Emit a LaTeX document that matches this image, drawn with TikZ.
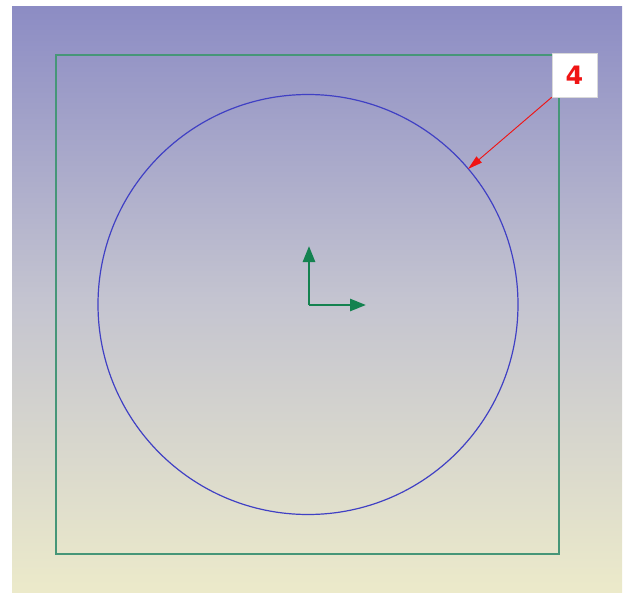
\documentclass[tikz,border=0pt]{standalone}
\usepackage{fontspec}
\setmainfont{Liberation Sans}
\newfontfamily\labelfont{DejaVu Sans}
\usetikzlibrary{arrows.meta}
\definecolor{bgtop}{RGB}{140,140,196}
\definecolor{bgmid}{RGB}{196,196,208}
\definecolor{bgbot}{RGB}{236,234,202}
\definecolor{frame}{RGB}{70,150,120}
\definecolor{circ}{RGB}{64,64,196}
\definecolor{axis}{RGB}{20,130,80}
\definecolor{lblred}{RGB}{240,20,20}
\tikzset{
  framebox/.style={draw=frame,line width=1.5pt},
  circline/.style={draw=circ,line width=0.9pt},
  axisarrow/.style={draw=axis,line width=2pt,-{Triangle[length=12pt,width=9pt]}},
  label4/.style={fill=white,draw=white!85!black,line width=0.3pt,minimum width=33.75pt,minimum height=33pt,inner sep=0pt,text=lblred,font=\labelfont\bfseries\fontsize{19}{19}\selectfont},
  leader/.style={draw=lblred,line width=0.7pt,-{Triangle[length=11pt,width=6pt]}}
}
\begin{document}
\begin{tikzpicture}[x=0.75pt,y=-0.75pt]
\useasboundingbox (0,0) rectangle (629,593);
\shade[top color=bgtop,bottom color=bgbot,middle color=bgmid] (12,6) rectangle (622,593);
\node[framebox,draw,rectangle,minimum width=377.25pt,minimum height=374.25pt,inner sep=0pt] (sq) at (307.5,304.5) {};
\node[circline,circle,minimum size=315pt,inner sep=0pt] (c) at (308,304.5) {};
\coordinate (o) at (309,305);
\coordinate (ytip) at (309,246);
\coordinate (xtip) at (366,305);
\draw[axisarrow] (o) -- (ytip);
\draw[axisarrow] (o) -- (xtip);
\node[label4] (lbl) at (574.5,75) {4};
\coordinate (hit) at (468,169);
\draw[leader] (lbl.south west) -- (hit);
\end{tikzpicture}
\end{document}
